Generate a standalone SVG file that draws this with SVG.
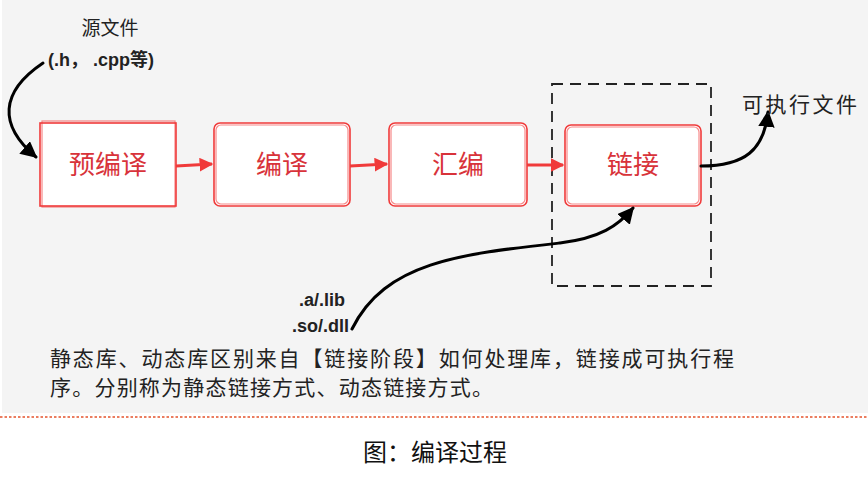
<svg xmlns="http://www.w3.org/2000/svg" width="868" height="486" viewBox="0 0 868 486">
<defs>
<style>
.t{font-family:"Liberation Sans","Noto Sans CJK SC",sans-serif;}
.box{fill:#ffffff;stroke:#f03a3a;stroke-width:1.6;}
.box2{fill:none;stroke:#f03a3a;stroke-width:1.2;opacity:0.6;}
.lbl{font-family:"Noto Sans CJK SC",sans-serif;font-size:26px;fill:#d8333a;text-anchor:middle;}
.red{fill:none;stroke:#f03a3a;stroke-width:3;}
.blk{fill:none;stroke:#000;stroke-width:3;stroke-linecap:round;}
</style>
<marker id="ar" viewBox="0 0 10 10" refX="9" refY="5" markerWidth="4.6" markerHeight="4.6" orient="auto" markerUnits="strokeWidth">
<path d="M0,0 L10,5 L0,10 z" fill="#f03a3a"/>
</marker>
<marker id="ab" viewBox="0 0 10 10" refX="9" refY="5" markerWidth="5.5" markerHeight="5.5" orient="auto" markerUnits="strokeWidth">
<path d="M0,0 L10,5 L0,10 z" fill="#000"/>
</marker>
</defs>
<rect x="2" y="0" width="866" height="413" fill="#f4f4f4"/>
<line x1="0" y1="417" x2="868" y2="417" stroke="#e5532c" stroke-width="1.3" stroke-dasharray="2.5 2"/>

<g id="dashed-group">
<rect x="552" y="84" width="159" height="202" fill="none" stroke="#222" stroke-width="1.8" stroke-dasharray="11 7"/>
</g>

<g id="node-preprocess">
<rect class="box" x="40" y="123" width="136" height="83"/>
<rect class="box2" x="42" y="121" width="133" height="86"/>
<text class="lbl" x="108" y="174">预编译</text>
</g>
<g id="node-compile">
<rect class="box" x="214" y="123" width="136" height="83" rx="6"/>
<rect class="box2" x="216" y="125" width="132" height="79" rx="5"/>
<text class="lbl" x="282" y="174">编译</text>
</g>
<g id="node-assemble">
<rect class="box" x="389" y="123" width="138" height="83" rx="6"/>
<rect class="box2" x="391" y="125" width="134" height="79" rx="5"/>
<text class="lbl" x="458" y="174">汇编</text>
</g>
<g id="node-link">
<rect class="box" x="565" y="125" width="136" height="81" rx="6"/>
<rect class="box2" x="567" y="127" width="132" height="77" rx="5"/>
<text class="lbl" x="633" y="174">链接</text>
</g>

<g id="connectors">
<path class="red" d="M176,166 L212,164" marker-end="url(#ar)"/>
<path class="red" d="M350,166 L387,164" marker-end="url(#ar)"/>
<path class="red" d="M527,165 L563,165" marker-end="url(#ar)"/>
<path class="blk" d="M43,63 C0,92 -2,125 36,157" marker-end="url(#ab)"/>
<path class="blk" d="M701,166 C745,166 764,150 768,112" marker-end="url(#ab)"/>
<path class="blk" d="M352,329 C385,262 460,254 560,243 C600,238 618,226 633,208" marker-end="url(#ab)"/>
</g>

<g id="labels">
<text class="t" x="110" y="35" font-size="19" fill="#222" text-anchor="middle">源文件</text>
<text class="t" x="48" y="66" font-size="18" font-weight="bold" fill="#222">(.h， .cpp等)</text>
<text class="t" x="742" y="112" font-size="21" fill="#222" textLength="115">可执行文件</text>
<text class="t" x="345" y="306" font-size="18" font-weight="bold" fill="#222" text-anchor="end">.a/.lib</text>
<text class="t" x="349" y="332" font-size="18" font-weight="bold" fill="#222" text-anchor="end">.so/.dll</text>
<text class="t" x="50" y="366" font-size="21" fill="#222" textLength="684">静态库、动态库区别来自【链接阶段】如何处理库，链接成可执行程</text>
<text class="t" x="50" y="395" font-size="21" fill="#222" textLength="443">序。分别称为静态链接方式、动态链接方式。</text>
<text class="t" x="435" y="461" font-size="24" fill="#111" text-anchor="middle">图：编译过程</text>
</g>
</svg>
